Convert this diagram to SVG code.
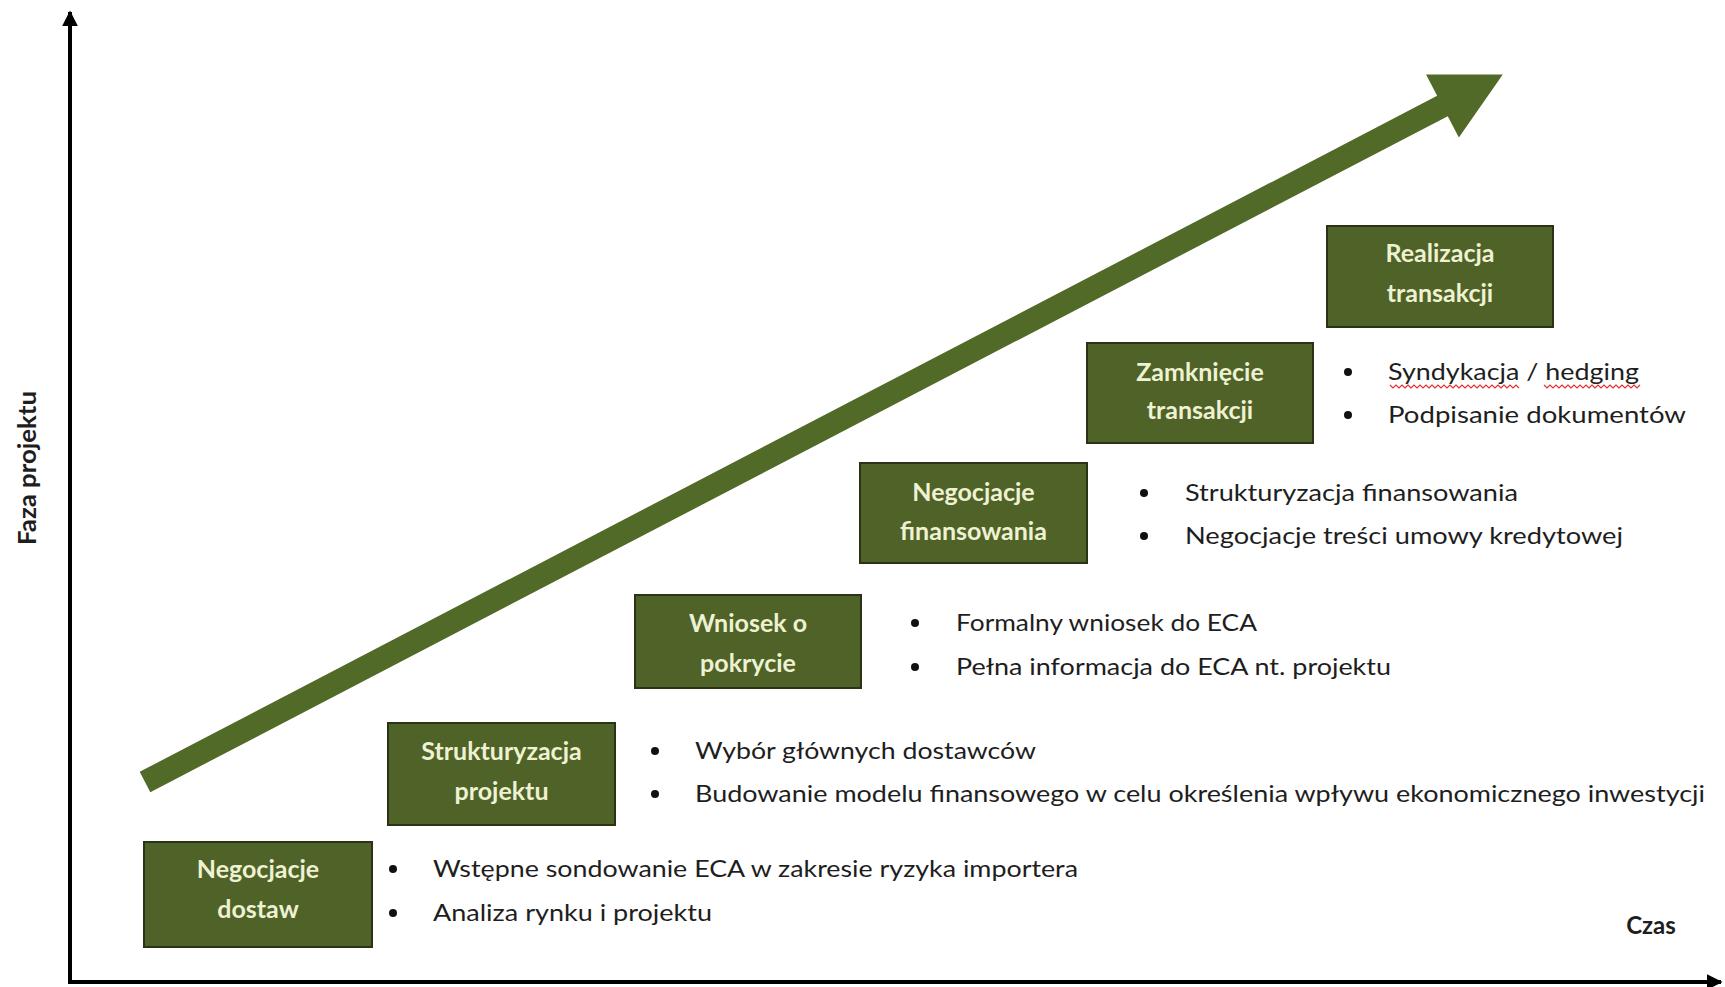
<svg xmlns="http://www.w3.org/2000/svg" width="1725" height="987" viewBox="0 0 1725 987">
<style>
.box{fill:#4f6228;stroke:#2b3316;stroke-width:2}
.lbl{font-family:Lato,"Open Sans",sans-serif;font-weight:bold;font-size:25px;fill:#eef2d2;text-anchor:middle}
.txt{font-family:Lato,"Open Sans",sans-serif;font-size:24px;fill:#1e1e1e}
.ax{font-family:Lato,"Open Sans",sans-serif;font-weight:bold;font-size:24px;fill:#1e1e1e}
.dot{fill:#111}
.axis{stroke:#000;stroke-width:4;fill:none}
.wave{stroke:#e03030;stroke-width:1.2;fill:none}
</style>
<defs>
<marker id="ah" viewBox="0 0 10 10" refX="9" refY="5" markerWidth="4" markerHeight="4" orient="auto" markerUnits="strokeWidth"><path d="M0,0 L10,5 L0,10 z" fill="#000"/></marker>
</defs>
<rect width="1725" height="987" fill="#fff"/>
<g id="connectors">
<line class="axis" x1="70" y1="984" x2="70" y2="12" marker-end="url(#ah)"/>
<line class="axis" x1="68" y1="982" x2="1721" y2="982" marker-end="url(#ah)"/>
<polygon id="progress-arrow" fill="#526a27" transform="translate(145,782) rotate(-27.52)" points="0,-11.5 1463,-11.5 1463,-35.5 1531,0 1463,35.5 1463,11.5 0,11.5"/>
</g>
<g id="axis-y-label"><text class="ax" transform="translate(36,468) rotate(-90)" text-anchor="middle" textLength="154" lengthAdjust="spacingAndGlyphs">Faza projektu</text></g>
<g id="axis-x-label"><text class="ax" x="1651" y="934" text-anchor="middle">Czas</text></g>

<g id="node1">
<rect class="box" x="144" y="842" width="228" height="105"/>
<text class="lbl" x="258" y="878">Negocjacje</text>
<text class="lbl" x="258" y="918">dostaw</text>
<circle class="dot" cx="393" cy="869" r="4"/>
<circle class="dot" cx="393" cy="913" r="4"/>
<text class="txt" x="433" y="877" textLength="645" lengthAdjust="spacingAndGlyphs">Wstępne sondowanie ECA w zakresie ryzyka importera</text>
<text class="txt" x="433" y="921" textLength="279" lengthAdjust="spacingAndGlyphs">Analiza rynku i projektu</text>
</g>

<g id="node2">
<rect class="box" x="388" y="723" width="227" height="102"/>
<text class="lbl" x="501.5" y="760">Strukturyzacja</text>
<text class="lbl" x="501.5" y="800">projektu</text>
<circle class="dot" cx="655" cy="751" r="4"/>
<circle class="dot" cx="655" cy="794" r="4"/>
<text class="txt" x="695" y="759" textLength="341" lengthAdjust="spacingAndGlyphs">Wybór głównych dostawców</text>
<text class="txt" x="695" y="802" textLength="1010" lengthAdjust="spacingAndGlyphs">Budowanie modelu finansowego w celu określenia wpływu ekonomicznego inwestycji</text>
</g>

<g id="node3">
<rect class="box" x="635" y="595" width="226" height="93"/>
<text class="lbl" x="748" y="632">Wniosek o</text>
<text class="lbl" x="748" y="672">pokrycie</text>
<circle class="dot" cx="915" cy="623" r="4"/>
<circle class="dot" cx="915" cy="667" r="4"/>
<text class="txt" x="956" y="631" textLength="301" lengthAdjust="spacingAndGlyphs">Formalny wniosek do ECA</text>
<text class="txt" x="956" y="675" textLength="435" lengthAdjust="spacingAndGlyphs">Pełna informacja do ECA nt. projektu</text>
</g>

<g id="node4">
<rect class="box" x="860" y="463" width="227" height="100"/>
<text class="lbl" x="973.5" y="501">Negocjacje</text>
<text class="lbl" x="973.5" y="540">finansowania</text>
<circle class="dot" cx="1144" cy="493" r="4"/>
<circle class="dot" cx="1144" cy="536" r="4"/>
<text class="txt" x="1185" y="501" textLength="333" lengthAdjust="spacingAndGlyphs">Strukturyzacja finansowania</text>
<text class="txt" x="1185" y="544" textLength="438" lengthAdjust="spacingAndGlyphs">Negocjacje treści umowy kredytowej</text>
</g>

<g id="node5">
<rect class="box" x="1087" y="343" width="226" height="100"/>
<text class="lbl" x="1200" y="381">Zamknięcie</text>
<text class="lbl" x="1200" y="419">transakcji</text>
<circle class="dot" cx="1348" cy="372" r="4"/>
<circle class="dot" cx="1348" cy="415" r="4"/>
<text class="txt" x="1388" y="380" textLength="251" lengthAdjust="spacingAndGlyphs">Syndykacja / hedging</text>
<path class="wave" d="M1390,385 l3,3 l3,-3 l3,3 l3,-3 l3,3 l3,-3 l3,3 l3,-3 l3,3 l3,-3 l3,3 l3,-3 l3,3 l3,-3 l3,3 l3,-3 l3,3 l3,-3 l3,3 l3,-3 l3,3 l3,-3 l3,3 l3,-3 l3,3 l3,-3 l3,3 l3,-3 l3,3 l3,-3 l3,3 l3,-3 l3,3 l3,-3 l3,3 l3,-3 l3,3 l3,-3 l3,3 l3,-3 l3,3 l3,-3 l3,3"/>
<path class="wave" d="M1544,385 l3,3 l3,-3 l3,3 l3,-3 l3,3 l3,-3 l3,3 l3,-3 l3,3 l3,-3 l3,3 l3,-3 l3,3 l3,-3 l3,3 l3,-3 l3,3 l3,-3 l3,3 l3,-3 l3,3 l3,-3 l3,3 l3,-3 l3,3 l3,-3 l3,3 l3,-3 l3,3 l3,-3 l3,3 l3,-3"/>
<text class="txt" x="1388" y="423" textLength="298" lengthAdjust="spacingAndGlyphs">Podpisanie dokumentów</text>
</g>

<g id="node6">
<rect class="box" x="1327" y="226" width="226" height="101"/>
<text class="lbl" x="1440" y="262">Realizacja</text>
<text class="lbl" x="1440" y="302">transakcji</text>
</g>
</svg>
